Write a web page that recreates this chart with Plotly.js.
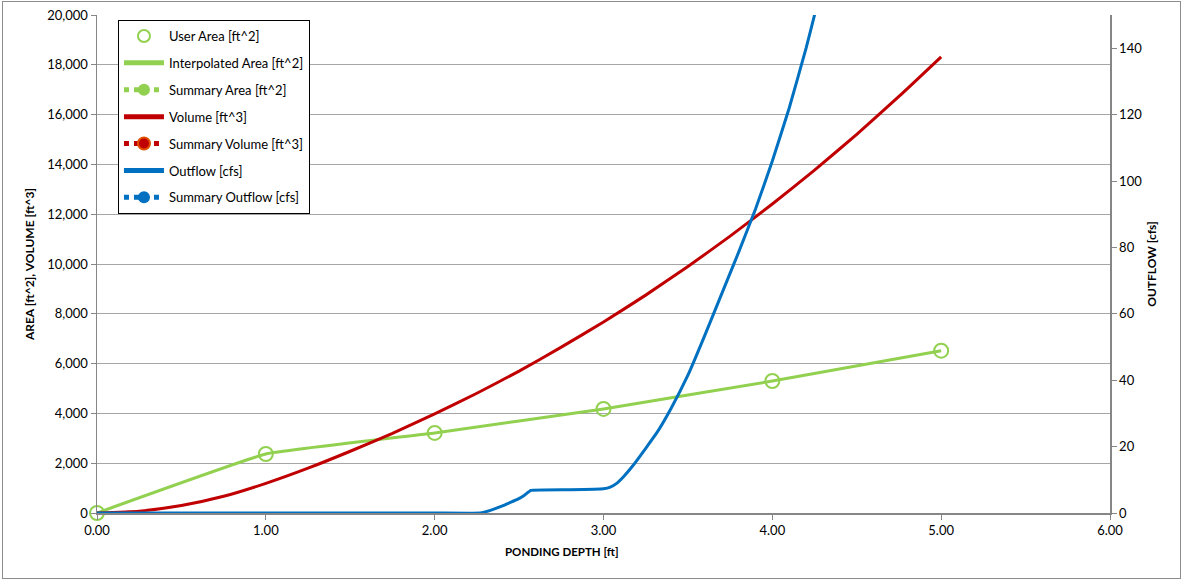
<!DOCTYPE html>
<html>
<head>
<meta charset="utf-8">
<script src="https://cdn.plot.ly/plotly-3.0.1.min.js"></script>
<style>
  html, body { margin: 0; padding: 0; background: #fff; }
  #chart { position: absolute; left: 0; top: 0; width: 1183px; height: 581px; }
  #frame { position: absolute; left: 2px; top: 1px; width: 1177px; height: 576px; border: 1px solid #8c8c8c; pointer-events: none; }
</style>
</head>
<body>
<div id="chart"></div>
<div id="frame"></div>
<script>
// ---- Data ----
const userDepth = [0, 1, 2, 3, 4, 5];
const userArea = [0, 2370, 3215, 4180, 5300, 6520];

const interpDepth = [0, 1, 2, 3, 4, 5];
const interpArea = [0, 2370, 3215, 4180, 5300, 6520];

const volDepth = [0, 0.25, 0.5, 0.75, 1, 1.25, 1.5, 1.75, 2, 2.25, 2.5, 2.75, 3, 3.25, 3.5, 3.75, 4, 4.25, 4.5, 4.75, 5];
const volume = [0, 75, 300, 670, 1190, 1800, 2480, 3200, 3980, 4810, 5700, 6660, 7670, 8750, 9900, 11120, 12410, 13770, 15210, 16730, 18320];

const outDepth = [0, 1, 2, 2.27, 2.33, 2.39, 2.44, 2.49, 2.53, 2.57, 2.8, 3.0, 3.04, 3.08, 3.12, 3.17, 3.25, 3.32, 3.40, 3.50, 3.60, 3.70, 3.80, 3.90, 4.00, 4.10, 4.20, 4.25, 4.30];
const outflow = [0, 0, 0, 0, 0.8, 1.9, 3.0, 4.1, 5.3, 6.8, 7.0, 7.3, 7.8, 9.0, 11.0, 14.0, 19.5, 24.5, 31.5, 41.5, 53.5, 66, 78.5, 91.5, 106, 122, 140, 150, 160];

// Summary series: present in the legend, no visible points in the chart
const summaryDepth = [null];
const summaryArea = [null];
const summaryVolume = [null];
const summaryOutflow = [null];

const xTickVals = [0, 1, 2, 3, 4, 5, 6];
const xTickText = ['0.00', '1.00', '2.00', '3.00', '4.00', '5.00', '6.00'];

const GREEN = '#92d050', RED = '#c00000', BLUE = '#0070c0';
const FONT = 'Lato, Carlito, "Open Sans", sans-serif';

const traces = [
  { name: 'User Area [ft^2]', x: userDepth, y: userArea, mode: 'markers', type: 'scatter',
    marker: { symbol: 'circle-open', size: 14, color: GREEN, line: { width: 2, color: GREEN } },
    cliponaxis: false, legendgroup: 'g1' },
  { name: 'Interpolated Area [ft^2]', x: interpDepth, y: interpArea, mode: 'lines', type: 'scatter',
    line: { color: GREEN, width: 3, shape: 'spline', smoothing: 0.25 }, legendgroup: 'g2' },
  { name: 'Summary Area [ft^2]', x: summaryDepth, y: summaryArea, mode: 'lines+markers', type: 'scatter',
    line: { color: GREEN, width: 2, dash: 'dot' }, marker: { color: GREEN, size: 9 }, legendgroup: 'g3' },
  { name: 'Volume [ft^3]', x: volDepth, y: volume, mode: 'lines', type: 'scatter',
    line: { color: RED, width: 3, shape: 'spline', smoothing: 0.5 }, legendgroup: 'g4' },
  { name: 'Summary Volume [ft^3]', x: summaryDepth, y: summaryVolume, mode: 'lines+markers', type: 'scatter',
    line: { color: RED, width: 2, dash: 'dot' }, marker: { color: RED, size: 9, line: { color: '#e05000', width: 1 } }, legendgroup: 'g5' },
  { name: 'Outflow [cfs]', x: outDepth, y: outflow, mode: 'lines', type: 'scatter', yaxis: 'y2',
    line: { color: BLUE, width: 3, shape: 'spline', smoothing: 0.3 }, legendgroup: 'g6' },
  { name: 'Summary Outflow [cfs]', x: summaryDepth, y: summaryOutflow, mode: 'lines+markers', type: 'scatter', yaxis: 'y2',
    line: { color: BLUE, width: 2, dash: 'dot' }, marker: { color: BLUE, size: 9 }, legendgroup: 'g7' }
];

const axisCommon = {
  showline: true, linecolor: '#868686', linewidth: 1.5,
  ticks: 'outside', ticklen: 5, tickcolor: '#868686', tickwidth: 1,
  zeroline: false,
  tickfont: { family: FONT, size: 13, color: '#000' }
};

const layout = {
  width: 1183, height: 581,
  margin: { l: 97, r: 73, t: 15, b: 68 },
  paper_bgcolor: 'rgba(0,0,0,0)', plot_bgcolor: '#fff',
  font: { family: FONT, size: 12, color: '#000' },
  showlegend: true,
  legend: {
    x: 0.0207, y: 0.99, xanchor: 'left', yanchor: 'top',
    bgcolor: '#fff', bordercolor: '#000', borderwidth: 1,
    font: { family: FONT, size: 13, color: '#000' },
    traceorder: 'grouped', tracegroupgap: 7, itemwidth: 40, itemsizing: 'constant'
  },
  xaxis: Object.assign({}, axisCommon, {
    range: [0, 6], tickvals: xTickVals, ticktext: xTickText, showgrid: false
  }),
  yaxis: Object.assign({}, axisCommon, {
    range: [0, 20000], dtick: 2000, tickformat: ',d', showgrid: true, gridcolor: '#a6a6a6', gridwidth: 1,
    title: { text: 'AREA [ft^2], VOLUME [ft^3]', font: { family: FONT, size: 12, color: '#000', weight: 'bold' }, standoff: 10 }
  }),
  yaxis2: Object.assign({}, axisCommon, {
    overlaying: 'y', side: 'right', range: [0, 150], dtick: 20, showgrid: false,
    title: { text: 'OUTFLOW [cfs]', font: { family: FONT, size: 12, color: '#000', weight: 'bold' }, standoff: 6 }
  }),
  annotations: [{
    text: '<b>PONDING DEPTH [ft]</b>', xref: 'paper', yref: 'paper',
    x: 0.459, y: -0.078, xanchor: 'center', yanchor: 'middle', showarrow: false,
    font: { family: FONT, size: 11.5, color: '#000' }
  }]
};

Plotly.newPlot('chart', traces, layout, { displayModeBar: false, staticPlot: true });
</script>
</body>
</html>
